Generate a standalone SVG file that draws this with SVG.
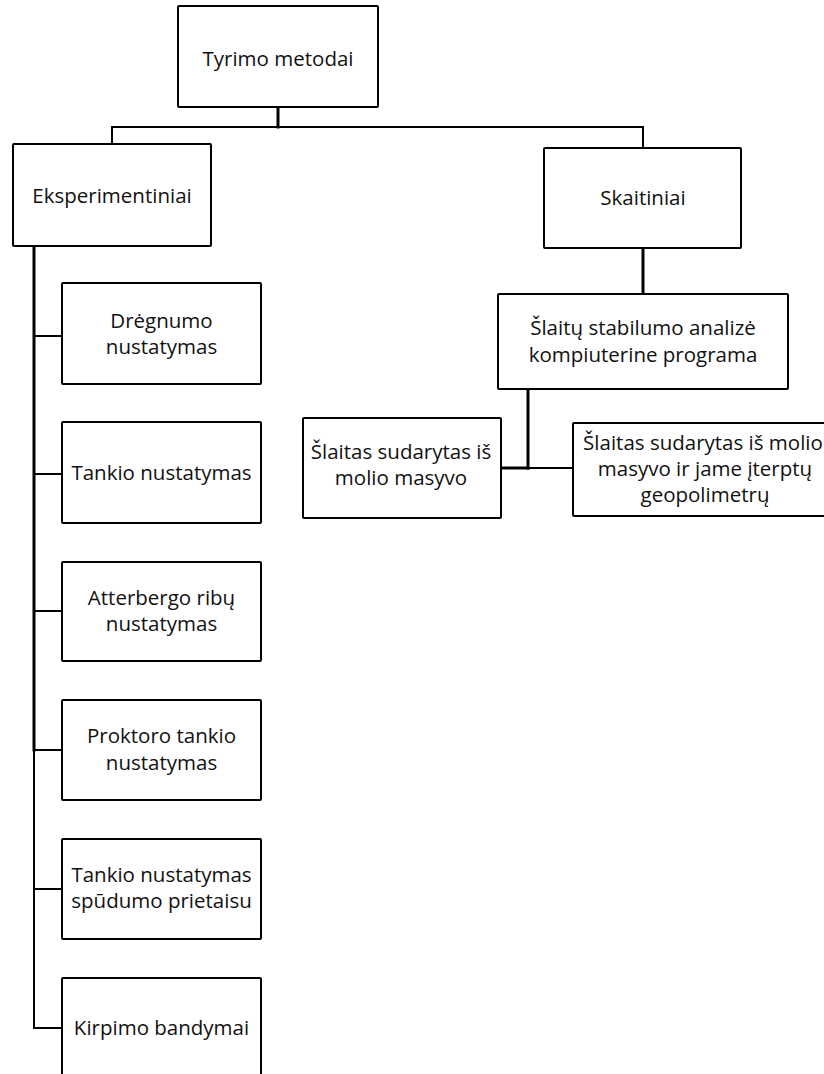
<svg xmlns="http://www.w3.org/2000/svg" width="824" height="1074" viewBox="0 0 824 1074">
<style>
.box{fill:#fff;stroke:#000;stroke-width:2}
.t{font-family:"Open Sans","Noto Sans",sans-serif;font-size:20.5px;fill:#111;text-anchor:middle}
.c{fill:none;stroke:#000;stroke-linecap:square}
.c2{stroke-width:2}
.c3{stroke-width:3}
</style>
<rect width="824" height="1074" fill="#fff"/>
<g id="connectors">
<line class="c c3" x1="278" y1="107" x2="278" y2="127"/>
<line class="c c2" x1="112" y1="127" x2="643" y2="127"/>
<line class="c c2" x1="112" y1="127" x2="112" y2="144"/>
<line class="c c2" x1="643" y1="127" x2="643" y2="148"/>
<line class="c c3" x1="643" y1="248" x2="643" y2="294"/>
<line class="c c3" x1="528" y1="389" x2="528" y2="468"/>
<line class="c c3" x1="501" y1="468" x2="528" y2="468"/>
<line class="c c2" x1="528" y1="468" x2="573" y2="468"/>
<line class="c c3" x1="34" y1="246" x2="34" y2="750"/>
<line class="c c2" x1="34" y1="750" x2="34" y2="1028"/>
<line class="c c2" x1="34" y1="336" x2="62" y2="336"/>
<line class="c c2" x1="34" y1="474" x2="62" y2="474"/>
<line class="c c2" x1="34" y1="611" x2="62" y2="611"/>
<line class="c c2" x1="34" y1="750" x2="62" y2="750"/>
<line class="c c2" x1="34" y1="889" x2="62" y2="889"/>
<line class="c c2" x1="34" y1="1028" x2="62" y2="1028"/>
</g>
<g id="n-tyrimo"><rect class="box" x="178" y="6" width="200" height="101" rx="1"/><text class="t" x="278" y="66">Tyrimo metodai</text></g>
<g id="n-eksp"><rect class="box" x="13" y="144" width="198" height="102" rx="1"/><text class="t" x="112" y="203">Eksperimentiniai</text></g>
<g id="n-skait"><rect class="box" x="544" y="148" width="197" height="100" rx="1"/><text class="t" x="643" y="205">Skaitiniai</text></g>
<g id="n-slaitu"><rect class="box" x="498" y="294" width="290" height="95" rx="1"/><text class="t" x="643" y="335">Šlaitų stabilumo analizė</text><text class="t" x="643" y="362">kompiuterine programa</text></g>
<g id="n-molio"><rect class="box" x="303" y="418" width="198" height="100" rx="1"/><text class="t" x="401" y="459">Šlaitas sudarytas iš</text><text class="t" x="401" y="485">molio masyvo</text></g>
<g id="n-geopol"><rect class="box" x="573" y="423" width="266" height="93" rx="1"/><text class="t" x="703" y="450">Šlaitas sudarytas iš molio</text><text class="t" x="705" y="476">masyvo ir jame įterptų</text><text class="t" x="705" y="502">geopolimetrų</text></g>
<g id="n-dregnumo"><rect class="box" x="62" y="283" width="199" height="101" rx="1"/><text class="t" x="161.5" y="328">Drėgnumo</text><text class="t" x="161.5" y="354">nustatymas</text></g>
<g id="n-tankio"><rect class="box" x="62" y="422" width="199" height="101" rx="1"/><text class="t" x="161.5" y="480">Tankio nustatymas</text></g>
<g id="n-atterbergo"><rect class="box" x="62" y="562" width="199" height="99" rx="1"/><text class="t" x="161.5" y="605">Atterbergo ribų</text><text class="t" x="161.5" y="631">nustatymas</text></g>
<g id="n-proktoro"><rect class="box" x="62" y="700" width="199" height="100" rx="1"/><text class="t" x="161.5" y="743">Proktoro tankio</text><text class="t" x="161.5" y="770">nustatymas</text></g>
<g id="n-spudumo"><rect class="box" x="62" y="839" width="199" height="100" rx="1"/><text class="t" x="161.5" y="882">Tankio nustatymas</text><text class="t" x="161.5" y="908">spūdumo prietaisu</text></g>
<g id="n-kirpimo"><rect class="box" x="62" y="978" width="199" height="102" rx="1"/><text class="t" x="161.5" y="1035">Kirpimo bandymai</text></g>
</svg>
